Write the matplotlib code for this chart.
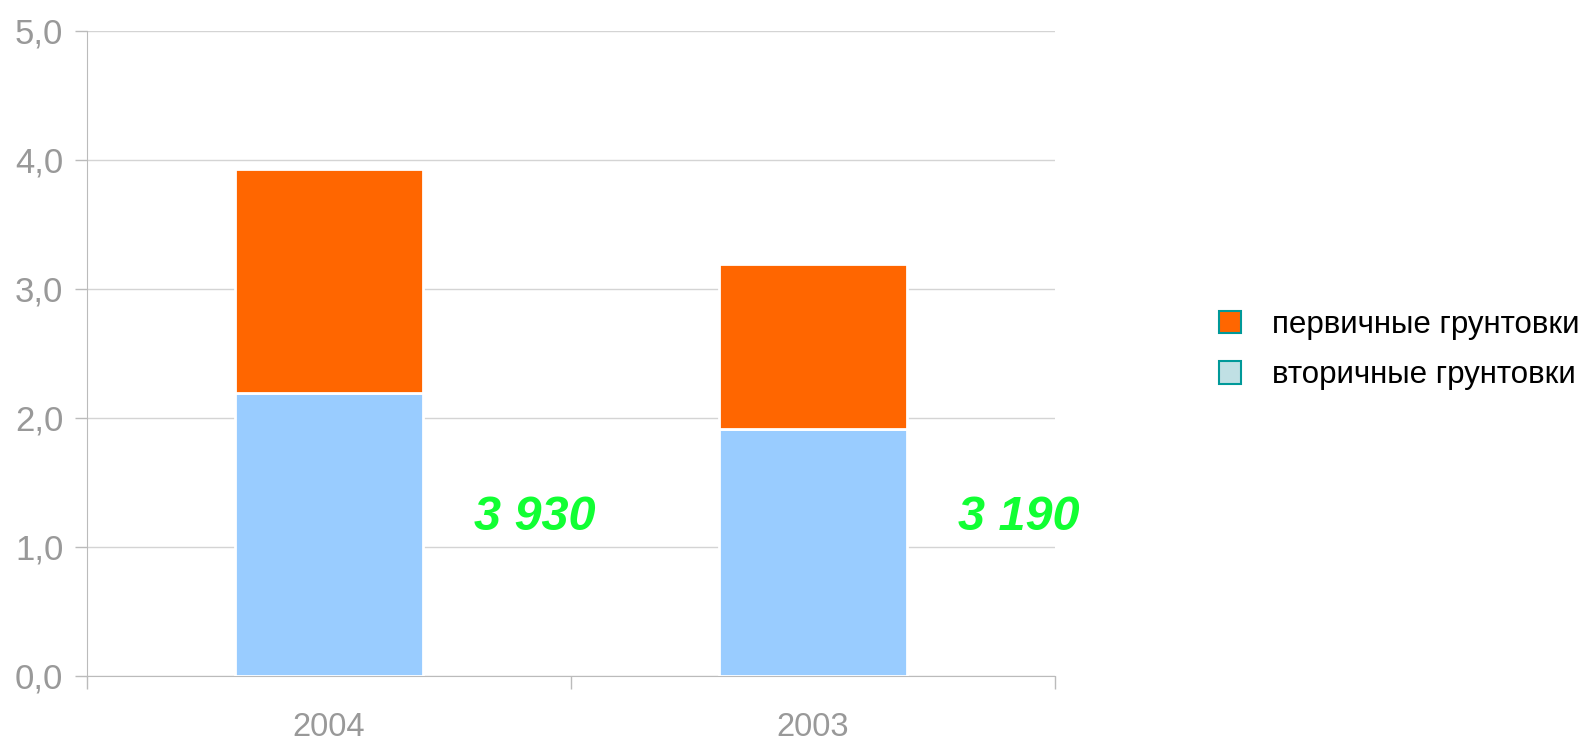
import matplotlib
matplotlib.use('Agg')
import matplotlib.pyplot as plt
from matplotlib.patches import Patch
import numpy as np

plt.rcParams['font.family'] = ['Liberation Sans', 'DejaVu Sans']

years = ['2004', '2003']
secondary = [2.19, 1.91]   # вторичные грунтовки
primary = [1.74, 1.28]     # первичные грунтовки
totals = ['3 930', '3 190']
yticks = [0, 1, 2, 3, 4, 5]

fig = plt.figure(figsize=(15.93, 7.40), dpi=100)
ax = fig.add_axes([87/1593, 64.4/740, (1055-87)/1593, (675.6-30.5)/740])

x = np.arange(len(years))
w = 0.39
ax.bar(x, secondary, w, color='#99CCFF', edgecolor='white', linewidth=2, zorder=3)
ax.bar(x, primary, w, bottom=secondary, color='#FF6600', edgecolor='white', linewidth=2, zorder=3)

# total labels to the right of each bar
for xi, t in zip(x, totals):
    ax.text(xi + 0.425, 1.225, t, color='#11FF33', fontsize=35, fontweight='bold',
            fontstyle='italic', ha='center', va='center', zorder=4)

ax.set_xlim(-0.5, 1.5)
ax.set_ylim(0, 5)
ax.set_yticks(yticks)
ax.set_yticklabels([f'{v:.1f}'.replace('.', ',') for v in yticks])
ax.set_xticks(x)
ax.set_xticklabels(years)
ax.set_xticks([-0.5, 0.5, 1.5], minor=True)
ax.tick_params(axis='x', which='major', length=0, pad=26, labelsize=23.5, labelcolor='#999999')
ax.tick_params(axis='x', which='minor', length=9, color='#bbbbbb', width=1)
ax.tick_params(axis='y', length=9, color='#bbbbbb', width=1, pad=8, labelsize=25, labelcolor='#999999')
ax.grid(axis='y', color='#d4d4d4', linewidth=1, zorder=1)
for s in ['top', 'right']:
    ax.spines[s].set_visible(False)
ax.spines['left'].set_color('#bbbbbb')
ax.spines['bottom'].set_color('#bbbbbb')

handles = [Patch(facecolor='#FF6600', edgecolor='#009999', linewidth=1.5),
           Patch(facecolor='#C0E0E4', edgecolor='#009999', linewidth=1.5)]
fig.legend(handles, ['первичные грунтовки', 'вторичные грунтовки'],
           loc='center left', bbox_to_anchor=(1203/1593, 1 - 350/740),
           frameon=False, borderpad=0, fontsize=22.5, handlelength=0.72, handleheight=0.72,
           handletextpad=1.0, labelspacing=0.66)

fig.savefig('out.png', dpi=100)
